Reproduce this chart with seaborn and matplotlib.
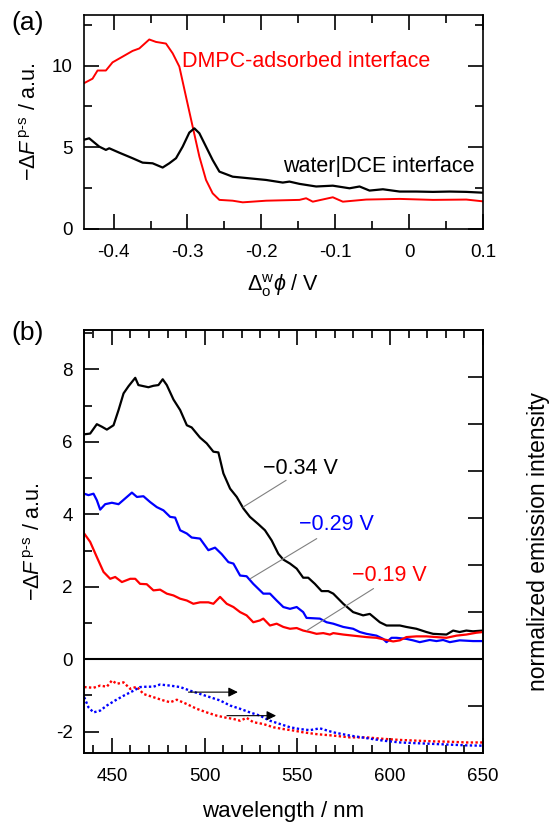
import numpy as np
import pandas as pd
import matplotlib
matplotlib.use("Agg")
import matplotlib.pyplot as plt
from matplotlib.ticker import MultipleLocator, NullFormatter
import seaborn as sns

# ---------------- Panel (a) data ----------------
a_red_x = [-0.441, -0.4285, -0.4217, -0.4104, -0.4014, -0.3878, -0.3743, -0.3652, -0.3517,
           -0.3426, -0.3291, -0.32, -0.311, -0.302, -0.293, -0.2839, -0.2749, -0.2659,
           -0.2568, -0.2388, -0.2252, -0.1936, -0.1484, -0.1394, -0.1304, -0.1033, -0.0897,
           -0.0581, -0.0129, 0.0323, 0.0774, 0.1]
a_red_y = [8.9, 9.2, 9.7, 9.7, 10.2, 10.55, 10.9, 11.05, 11.6,
           11.45, 11.35, 10.75, 9.94, 8.1, 6.27, 4.43, 3.0, 2.18,
           1.78, 1.73, 1.63, 1.73, 1.78, 1.88, 1.67, 1.94, 1.67,
           1.8, 1.84, 1.78, 1.8, 1.69]

a_blk_x = [-0.441, -0.433, -0.4194, -0.4104, -0.4059, -0.3923, -0.3743, -0.3607, -0.3472,
           -0.3336, -0.3246, -0.3155, -0.3065, -0.2975, -0.2907, -0.2839, -0.2749, -0.2659,
           -0.2568, -0.2388, -0.2162, -0.1936, -0.171, -0.162, -0.1484, -0.1258, -0.1033,
           -0.0807, -0.0671, -0.0536, -0.0355, -0.0129, 0.0097, 0.0323, 0.0548, 0.0774, 0.1]
a_blk_y = [5.45, 5.55, 5.04, 4.84, 4.94, 4.67, 4.33, 4.06, 4.02,
           3.76, 4.02, 4.33, 5.04, 5.9, 6.16, 5.86, 5.04, 4.22,
           3.51, 3.2, 3.1, 3.0, 2.84, 2.9, 2.76, 2.6, 2.65,
           2.49, 2.6, 2.35, 2.43, 2.29, 2.29, 2.27, 2.29, 2.27, 2.22]

# ---------------- Panel (b) data ----------------
b_blk_x = [435.1, 438.3, 441.9, 444.6, 447.3, 450.9, 453.6, 456.3, 459.0, 462.6, 464.3, 467.0,
           469.7, 472.4, 475.1, 477.4, 479.6, 483.2, 486.8, 490.4, 493.0, 497.5, 501.1, 504.7,
           507.4, 510.1, 513.7, 517.3, 520.9, 524.4, 528.9, 532.5, 536.1, 539.7, 542.4, 546.0,
           549.6, 553.1, 555.8, 559.4, 563.0, 566.6, 569.3, 574.7, 580.0, 585.4, 589.0, 594.4,
           598.0, 605.2, 608.7, 614.1, 619.5, 623.1, 630.3, 633.9, 637.4, 641.0, 644.6, 650.0]
b_blk_y = [6.21, 6.23, 6.49, 6.42, 6.34, 6.46, 6.88, 7.34, 7.54, 7.77, 7.57, 7.54,
           7.51, 7.55, 7.57, 7.73, 7.57, 7.17, 6.88, 6.46, 6.40, 6.12, 5.96, 5.73,
           5.71, 5.13, 4.71, 4.48, 4.16, 3.93, 3.73, 3.56, 3.28, 2.91, 2.75, 2.64,
           2.50, 2.25, 2.25, 2.08, 1.88, 1.88, 1.81, 1.53, 1.30, 1.21, 1.25, 1.02,
           0.93, 0.93, 0.89, 0.84, 0.75, 0.70, 0.68, 0.79, 0.75, 0.79, 0.77, 0.79]

b_blu_x = [435.1, 437.4, 440.1, 441.9, 443.7, 446.4, 450.0, 453.6, 457.2, 460.8, 463.5, 467.0,
           470.6, 474.2, 477.8, 481.4, 484.1, 486.8, 490.4, 493.0, 497.5, 502.0, 505.6, 509.2,
           512.8, 515.5, 519.1, 522.6, 526.2, 531.6, 535.2, 538.8, 542.4, 546.0, 549.6, 553.1,
           554.9, 562.1, 565.7, 569.3, 574.7, 580.0, 583.6, 587.2, 592.6, 596.2, 598.0, 600.7,
           603.4, 608.7, 612.3, 615.9, 621.3, 624.9, 628.5, 632.1, 637.4, 644.6, 650.0]
b_blu_y = [4.57, 4.53, 4.57, 4.39, 4.13, 4.28, 4.32, 4.28, 4.44, 4.60, 4.48, 4.50,
           4.34, 4.20, 4.11, 3.93, 3.91, 3.56, 3.47, 3.36, 3.33, 3.01, 3.08, 2.90,
           2.68, 2.64, 2.31, 2.29, 2.08, 1.81, 1.81, 1.62, 1.44, 1.39, 1.44, 1.30,
           1.14, 1.12, 1.02, 0.98, 0.89, 0.84, 0.75, 0.70, 0.65, 0.56, 0.47, 0.59,
           0.59, 0.56, 0.52, 0.47, 0.53, 0.50, 0.53, 0.47, 0.52, 0.50, 0.50]

b_red_x = [435.1, 438.3, 441.9, 445.5, 449.1, 451.8, 455.4, 459.9, 462.6, 465.2, 468.8, 472.4,
           476.0, 479.6, 483.2, 486.8, 490.4, 493.9, 497.5, 502.0, 504.7, 508.3, 511.9, 515.5,
           519.1, 522.6, 526.2, 529.8, 531.6, 535.2, 538.8, 542.4, 546.0, 549.6, 553.1, 556.7,
           560.3, 563.9, 567.5, 569.3, 574.7, 580.0, 587.2, 592.6, 598.0, 601.6, 605.2, 608.7,
           614.1, 619.5, 624.9, 630.3, 635.7, 641.0, 646.4, 650.0]
b_red_y = [3.47, 3.24, 2.82, 2.41, 2.22, 2.27, 2.13, 2.22, 2.22, 2.08, 2.07, 1.90,
           1.92, 1.81, 1.76, 1.67, 1.62, 1.53, 1.57, 1.57, 1.53, 1.72, 1.53, 1.44,
           1.30, 1.21, 1.02, 1.07, 1.12, 0.93, 0.98, 0.89, 0.84, 0.86, 0.79, 0.75,
           0.70, 0.72, 0.68, 0.72, 0.68, 0.65, 0.61, 0.59, 0.53, 0.49, 0.52, 0.61,
           0.63, 0.63, 0.61, 0.59, 0.65, 0.68, 0.73, 0.75]

# dotted (normalized emission) curves, in left-axis units
d_red_x = [435.1, 440.1, 443.7, 447.3, 450.0, 452.7, 456.3, 459.9, 463.5, 467.0, 472.4, 477.8,
           481.4, 485.0, 490.4, 495.7, 501.1, 506.5, 511.9, 515.5, 519.1, 522.6, 526.2, 531.6,
           537.0, 542.4, 547.8, 553.1, 560.3, 569.3, 578.3, 587.2, 596.2, 605.2, 614.1, 623.1,
           632.1, 641.0, 650.0]
d_red_y = [-0.77, -0.79, -0.73, -0.76, -0.59, -0.68, -0.64, -0.82, -0.76, -0.96, -1.05, -1.14,
           -1.19, -1.12, -1.24, -1.37, -1.47, -1.56, -1.62, -1.65, -1.70, -1.62, -1.74, -1.79,
           -1.88, -1.93, -1.97, -2.02, -2.07, -2.11, -2.16, -2.16, -2.20, -2.23, -2.25, -2.27,
           -2.28, -2.30, -2.30]
d_blu_x = [435.1, 437.4, 440.1, 443.7, 447.3, 451.8, 456.3, 461.7, 465.2, 468.8, 472.4, 476.0,
           481.4, 486.8, 492.2, 497.5, 502.9, 508.3, 513.7, 519.1, 524.4, 529.8, 535.2, 540.6,
           546.0, 551.3, 556.7, 562.1, 569.3, 578.3, 587.2, 596.2, 605.2, 614.1, 623.1, 632.1,
           641.0, 650.0]
d_blu_y = [-1.05, -1.33, -1.47, -1.42, -1.28, -1.14, -1.01, -0.87, -0.77, -0.76, -0.76, -0.70,
           -0.73, -0.77, -0.87, -0.96, -1.05, -1.14, -1.28, -1.37, -1.47, -1.56, -1.70, -1.79,
           -1.88, -1.93, -1.96, -1.91, -2.02, -2.11, -2.18, -2.25, -2.30, -2.32, -2.34, -2.36,
           -2.38, -2.39]

labels_b = ["\u22120.34 V", "\u22120.29 V", "\u22120.19 V"]

# ---------------- style ----------------
sns.set_style("ticks")
plt.rcParams["font.family"] = ["Liberation Sans", "DejaVu Sans"]
plt.rcParams["mathtext.fontset"] = "custom"
plt.rcParams["mathtext.rm"] = "Liberation Sans"
plt.rcParams["mathtext.it"] = "Liberation Sans:italic"
plt.rcParams["mathtext.bf"] = "Liberation Sans:bold"
plt.rcParams["axes.unicode_minus"] = False
plt.rcParams["axes.linewidth"] = 1.2
for key in ["text.color", "axes.labelcolor", "xtick.color", "ytick.color",
            "axes.edgecolor", "xtick.labelcolor", "ytick.labelcolor"]:
    plt.rcParams[key] = "black"

RED = "#ff0000"
BLUE = "#0000ff"
FS = 13.5
LFS = 15.5

fig = plt.figure(figsize=(5.55, 8.23), dpi=100)
axa = fig.add_axes([0.1514, 0.7218, 0.7189, 0.2600])
axb = fig.add_axes([0.1514, 0.0851, 0.7189, 0.5139])


def style_ticks(ax):
    ax.tick_params(which="both", direction="in", top=True, width=1.2, labelsize=FS, colors="black")
    ax.tick_params(which="major", length=11)
    ax.tick_params(which="minor", length=6)
    ax.tick_params(axis="x", which="major", pad=11)
    ax.tick_params(axis="y", which="major", pad=8)
    for s in ax.spines.values():
        s.set_linewidth(1.2)
        s.set_color("black")


# ---- panel (a) ----
sns.lineplot(x=a_red_x, y=a_red_y, ax=axa, color=RED, lw=1.4, estimator=None)
sns.lineplot(x=a_blk_x, y=a_blk_y, ax=axa, color="black", lw=1.6, estimator=None)
axa.set_xlim(-0.44, 0.1)
axa.set_ylim(0, 13.1)
axa.xaxis.set_major_locator(MultipleLocator(0.1))
axa.xaxis.set_minor_locator(MultipleLocator(0.05))
axa.yaxis.set_major_locator(MultipleLocator(5))
axa.yaxis.set_minor_locator(MultipleLocator(2.5))
axa.set_xticks([-0.4, -0.3, -0.2, -0.1, 0, 0.1])
axa.set_xticklabels(["-0.4", "-0.3", "-0.2", "-0.1", "0", "0.1"])
style_ticks(axa)
axa.tick_params(which="both", right=True)
axa.set_ylabel(r"$-\Delta \mathit{F}^{\,\mathrm{p}\text{-}\mathrm{s}}$ / a.u.", fontsize=LFS, labelpad=8, color="black")
axa.set_xlabel(r"$\Delta^{\mathrm{w}}_{\mathrm{o}}\mathit{\phi}$ / V", fontsize=LFS, labelpad=8, color="black")
axa.text(-0.307, 10.25, "DMPC-adsorbed interface", color=RED, fontsize=LFS, va="center", ha="left")
axa.text(0.088, 3.85, "water|DCE interface", color="black", fontsize=LFS, va="center", ha="right")
fig.text(0.020, 0.972, "(a)", fontsize=19, va="center", ha="left", color="black")

# ---- panel (b) ----
sns.lineplot(x=b_blk_x, y=b_blk_y, ax=axb, color="black", lw=1.6, estimator=None)
sns.lineplot(x=b_blu_x, y=b_blu_y, ax=axb, color=BLUE, lw=1.6, estimator=None)
sns.lineplot(x=b_red_x, y=b_red_y, ax=axb, color=RED, lw=1.6, estimator=None)
sns.lineplot(x=d_red_x, y=d_red_y, ax=axb, color=RED, lw=1.7, estimator=None, linestyle=(0, (1, 1)))
sns.lineplot(x=d_blu_x, y=d_blu_y, ax=axb, color=BLUE, lw=1.7, estimator=None, linestyle=(0, (1, 1)))
axb.axhline(0, color="black", lw=1.5)
axb.set_xlim(435, 650)
ylim_b = (-2.59, 9.09)
axb.set_ylim(*ylim_b)
axb.xaxis.set_major_locator(MultipleLocator(50))
axb.xaxis.set_minor_locator(MultipleLocator(10))
axb.yaxis.set_major_locator(MultipleLocator(2))
axb.yaxis.set_minor_locator(MultipleLocator(1))
style_ticks(axb)
axb.tick_params(which="both", right=False)
axb.set_xlabel("wavelength / nm", fontsize=LFS + 0.5, labelpad=11, color="black")
axb.set_ylabel(r"$-\Delta \mathit{F}^{\,\mathrm{p}\text{-}\mathrm{s}}$ / a.u.", fontsize=LFS, labelpad=8, color="black")

axr = axb.twinx()
axr.set_ylim(ylim_b[0] / 1.3, ylim_b[1] / 1.3)
axr.yaxis.set_major_locator(MultipleLocator(1))
axr.yaxis.set_major_formatter(NullFormatter())
axr.tick_params(axis="y", direction="in", length=11, width=1.2, colors="black")
axr.set_ylabel("normalized emission intensity", fontsize=16.5, labelpad=28, color="black")
for s in axr.spines.values():
    s.set_linewidth(1.2)
    s.set_color("black")

# annotations with leader lines
ann = [
    (labels_b[0], "black", (520.7, 4.20), (543.9, 4.94), (551.5, 5.27)),
    (labels_b[1], BLUE, (524.5, 2.22), (560.4, 3.33), (570.8, 3.73)),
    (labels_b[2], RED, (555.0, 0.79), (591.0, 1.95), (599.4, 2.32)),
]
for txt, col, p0, p1, pt in ann:
    axb.plot([p0[0], p1[0]], [p0[1], p1[1]], color="gray", lw=0.8)
    axb.text(pt[0], pt[1], txt, color=col, fontsize=LFS, ha="center", va="center")

# arrows for dotted curves
for (x0, x1, yy) in [(491.3, 517.9, -0.91), (512.0, 538.5, -1.56)]:
    axb.annotate("", xy=(x1, yy), xytext=(x0, yy),
                 arrowprops=dict(arrowstyle="-|>", color="black", lw=0.8,
                                 mutation_scale=14, shrinkA=0, shrinkB=0))

fig.text(0.020, 0.595, "(b)", fontsize=19, va="center", ha="left", color="black")

fig.savefig("out.png", dpi=100)
